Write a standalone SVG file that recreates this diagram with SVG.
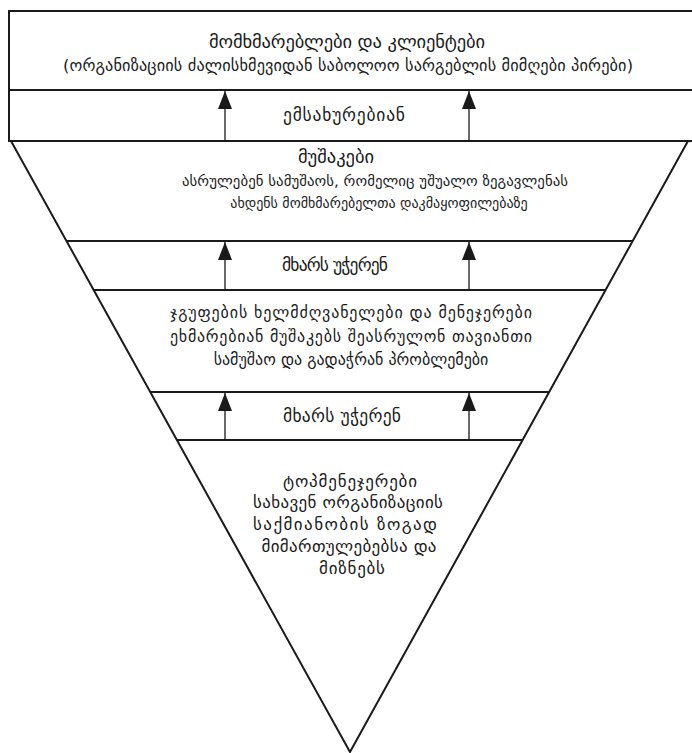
<svg xmlns="http://www.w3.org/2000/svg" width="692" height="753" viewBox="0 0 692 753">
<style>
  .frame { fill: none; stroke: #1a1a1a; stroke-width: 2; stroke-linejoin: miter; }
  .conn { stroke: #1a1a1a; stroke-width: 1.3; fill: none; }
  text { font-family: "DejaVu Sans", "Noto Sans", sans-serif; fill: #1a1a1a; text-anchor: middle; }
  .head { font-size: 18.5px; }
  .sub { font-size: 16.3px; }
  .body { font-size: 14.8px; }
  .body3 { font-size: 16px; }
  .body4 { font-size: 17px; }
  .band { font-size: 17.5px; }
</style>
<defs>
  <marker id="arrow" markerUnits="userSpaceOnUse" markerWidth="18" markerHeight="14" viewBox="0 0 18 14" refX="18" refY="7" orient="auto">
    <path d="M18,7 L0,0 L0,14 Z" fill="#1a1a1a"/>
  </marker>
</defs>
<rect width="692" height="753" fill="#ffffff"/>

<g id="customers">
  <path class="frame" d="M692,11 H9 V141 H692"/>
  <line class="frame" x1="9" y1="90" x2="692" y2="90"/>
  <text class="head" x="347" y="48" textLength="276">მომხმარებლები და კლიენტები</text>
  <text class="sub" x="348" y="71" textLength="570">(ორგანიზაციის ძალისხმევიდან საბოლოო სარგებლის მიმღები პირები)</text>
</g>

<g id="band-serve">
  <text class="band" x="344" y="121" textLength="122">ემსახურებიან</text>
</g>

<g id="pyramid">
  <polygon class="frame" points="11,141 688,141 350,752"/>
</g>

<g id="workers">
  <line class="frame" x1="66.5" y1="241" x2="632.7" y2="241"/>
  <text class="head" x="336" y="163" textLength="76">მუშაკები</text>
  <text class="body" x="375" y="186" textLength="386">ასრულებენ სამუშაოს, რომელიც უშუალო ზეგავლენას</text>
  <text class="body" x="379" y="208" style="font-size:14px">ახდენს მომხმარებელთა დაკმაყოფილებაზე</text>
</g>

<g id="band-support-1">
  <line class="frame" x1="93.7" y1="290" x2="605.6" y2="290"/>
  <text class="band" x="335" y="271" textLength="106">მხარს უჭერენ</text>
</g>

<g id="managers">
  <line class="frame" x1="150.3" y1="392" x2="549.1" y2="392"/>
  <text class="body3" x="351" y="318" textLength="362">ჯგუფების ხელმძღვანელები და მენეჯერები</text>
  <text class="body3" x="351" y="342" textLength="362">ეხმარებიან მუშაკებს შეასრულონ თავიანთი</text>
  <text class="body3" x="351" y="365">სამუშაო და გადაჭრან პრობლემები</text>
</g>

<g id="band-support-2">
  <line class="frame" x1="176.9" y1="440" x2="522.6" y2="440"/>
  <text class="band" x="342" y="422" textLength="118">მხარს უჭერენ</text>
</g>

<g id="top-managers">
  <text class="body4" x="350" y="487" textLength="134">ტოპმენეჯერები</text>
  <text class="body4" x="348" y="508" textLength="190">სახავენ ორგანიზაციის</text>
  <text class="body4" x="345" y="530" textLength="184">საქმიანობის ზოგად</text>
  <text class="body4" x="349" y="552" textLength="175">მიმართულებებსა და</text>
  <text class="body4" x="352" y="574" textLength="66">მიზნებს</text>
</g>

<g id="connectors">
  <line class="conn" x1="225" y1="141" x2="225" y2="91" marker-end="url(#arrow)"/>
  <line class="conn" x1="469" y1="141" x2="469" y2="91" marker-end="url(#arrow)"/>
  <line class="conn" x1="225" y1="290" x2="225" y2="242" marker-end="url(#arrow)"/>
  <line class="conn" x1="469" y1="290" x2="469" y2="242" marker-end="url(#arrow)"/>
  <line class="conn" x1="225" y1="440" x2="225" y2="393" marker-end="url(#arrow)"/>
  <line class="conn" x1="469" y1="440" x2="469" y2="393" marker-end="url(#arrow)"/>
</g>
</svg>
